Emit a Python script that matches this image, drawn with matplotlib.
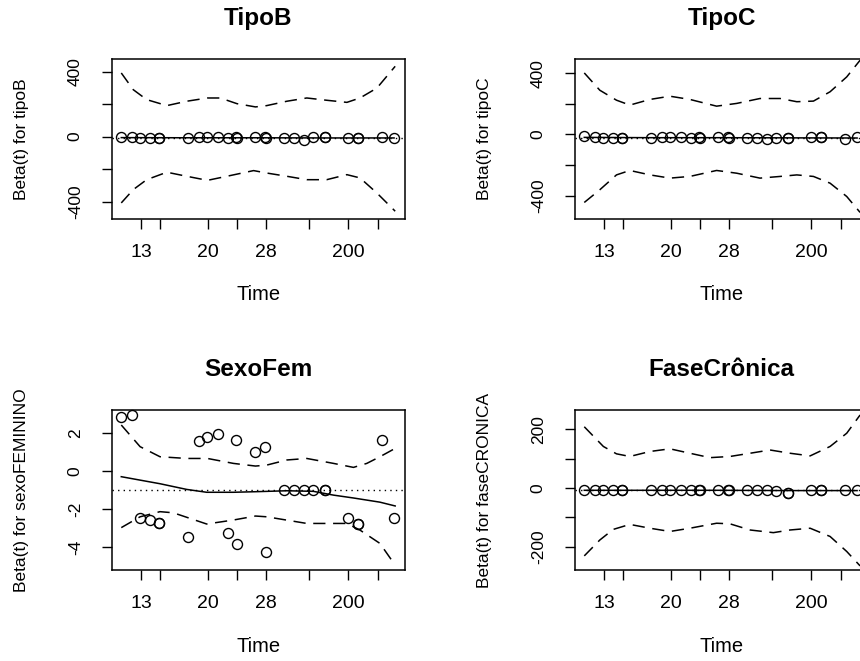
import matplotlib
matplotlib.use("Agg")
import matplotlib.pyplot as plt

plt.rcParams['font.family'] = ['Liberation Sans', 'DejaVu Sans']

# ---- data (x on the transformed time scale used by cox.zph, 0..1) ----
event_t = [0.000, 0.038, 0.069, 0.105, 0.139, 0.139, 0.246, 0.284, 0.315, 0.354,
           0.390, 0.422, 0.424, 0.491, 0.527, 0.531, 0.598, 0.634, 0.669, 0.704,
           0.747, 0.747, 0.830, 0.867, 0.867, 0.955, 1.000]

tick_t = [0.072, 0.142, 0.318, 0.424, 0.531, 0.688, 0.831, 0.941]
tick_labels = ["13", "", "20", "", "28", "", "200", ""]

titles = ["TipoB", "TipoC", "SexoFem", "FaseCr\u00f4nica"]
ylabels = ["Beta(t) for tipoB", "Beta(t) for tipoC",
           "Beta(t) for sexoFEMININO", "Beta(t) for faseCRONICA"]

# residual points
res_tipoB = [-2, -3, -8, -8, -10, -10, -10, -3, -3, -3, -8, -5, -10, -3, -3, -10,
             -10, -10, -18, -3, -3, -3, -10, -10, -10, -3, -8]
res_tipoC = [-11, -15, -24, -24, -24, -24, -24, -15, -15, -15, -24, -20, -24, -15,
             -20, -24, -24, -24, -33, -24, -24, -24, -20, -20, -20, -28, -20]
res_sexo = [2.88, 2.95, -2.44, -2.56, -2.72, -2.72, -3.46, 1.61, 1.82, 1.98, -3.26,
            1.63, -3.82, 1.02, 1.28, -4.23, -0.98, -0.98, -0.98, -0.98, -0.98,
            -0.98, -2.44, -2.77, -2.77, 1.63, -2.44]
res_fase = [-8, -8, -8, -8, -8, -8, -8, -8, -8, -8, -8, -8, -8, -8, -8, -8, -8,
            -8, -8, -12, -16, -16, -8, -8, -8, -8, -8]

# coefficient (dotted line)
coef = [-6, -22, -0.98, -8]

# smooth fit (solid)
fit_t_flat = [0.0, 0.25, 0.5, 0.75, 1.0]
fit_tipoB = [-6, -7, -7, -8, -8]
fit_tipoC = [-20, -22, -22, -23, -24]
fit_fase = [-8, -8, -8, -9, -9]
fit_t_sexo = [0.0, 0.069, 0.142, 0.240, 0.313, 0.411, 0.492, 0.607, 0.704, 0.778,
              0.851, 0.948, 1.004]
fit_sexo = [-0.28, -0.46, -0.65, -0.95, -1.10, -1.10, -1.07, -1.02, -1.05, -1.25,
            -1.40, -1.62, -1.82]

# confidence bands (dashed)
bandB_t_up = [0, 0.044, 0.093, 0.167, 0.240, 0.316, 0.363, 0.424, 0.492, 0.533,
              0.607, 0.680, 0.753, 0.827, 0.875, 0.937, 1.004]
bandB_up = [392, 289, 228, 191, 218, 238, 238, 203, 183, 191, 218, 238, 224, 211,
            238, 299, 433]
bandB_t_lo = [0, 0.044, 0.093, 0.167, 0.240, 0.316, 0.387, 0.485, 0.533, 0.607,
              0.680, 0.753, 0.827, 0.875, 0.937, 1.004]
bandB_lo = [-408, -326, -265, -219, -244, -269, -244, -209, -224, -244, -265, -265,
            -234, -254, -347, -459]

bandC_t = [0.0, 0.057, 0.118, 0.167, 0.241, 0.314, 0.387, 0.485, 0.559, 0.644,
           0.718, 0.779, 0.840, 0.901, 0.962, 1.011]
bandC_up = [401, 288, 223, 191, 228, 249, 228, 184, 202, 234, 234, 213, 217, 278,
            375, 484]
bandC_lo = [-445, -362, -265, -236, -265, -286, -275, -236, -254, -286, -275, -265,
            -275, -319, -406, -510]

bandS_t_up = [0.000, 0.069, 0.142, 0.240, 0.316, 0.411, 0.492, 0.533, 0.607, 0.680,
              0.778, 0.851, 0.900, 0.948, 1.004]
bandS_up = [2.44, 1.30, 0.77, 0.68, 0.68, 0.42, 0.28, 0.33, 0.60, 0.68, 0.42, 0.21,
            0.42, 0.77, 1.21]
bandS_t_lo = [0.000, 0.069, 0.142, 0.191, 0.313, 0.411, 0.492, 0.533, 0.680, 0.827,
              0.875, 0.948, 0.991]
bandS_lo = [-2.96, -2.39, -2.12, -2.18, -2.77, -2.56, -2.35, -2.39, -2.74, -2.74,
            -3.09, -3.79, -4.67]

bandF_t_up = [0.0, 0.070, 0.118, 0.167, 0.241, 0.314, 0.387, 0.461, 0.534, 0.608,
              0.681, 0.754, 0.828, 0.901, 0.962, 1.011]
bandF_up = [208, 141, 116, 107, 124, 133, 118, 103, 107, 118, 129, 118, 109, 141,
            186, 248]
bandF_t_lo = [0, 0.057, 0.106, 0.167, 0.241, 0.314, 0.387, 0.485, 0.534, 0.608,
              0.693, 0.754, 0.828, 0.901, 0.962, 1.011]
bandF_lo = [-231, -177, -141, -124, -137, -148, -137, -120, -122, -143, -152, -143,
            -137, -165, -216, -265]

yticks = [[-400, -200, 0, 200, 400], [-400, -200, 0, 200, 400],
          [-4, -2, 0, 2], [-200, -100, 0, 100, 200]]
ytick_labels = [["-400", "", "0", "", "400"], ["-400", "", "0", "", "400"],
                ["-4", "-2", "0", "2"], ["-200", "", "0", "", "200"]]
ylims = [(-507, 478), (-553, 492), (-5.19, 3.23), (-279, 265)]

panels = [
    dict(res=res_tipoB, fit_t=fit_t_flat, fit=fit_tipoB,
         up_t=bandB_t_up, up=bandB_up, lo_t=bandB_t_lo, lo=bandB_lo),
    dict(res=res_tipoC, fit_t=fit_t_flat, fit=fit_tipoC,
         up_t=bandC_t, up=bandC_up, lo_t=bandC_t, lo=bandC_lo),
    dict(res=res_sexo, fit_t=fit_t_sexo, fit=fit_sexo,
         up_t=bandS_t_up, up=bandS_up, lo_t=bandS_t_lo, lo=bandS_lo),
    dict(res=res_fase, fit_t=fit_t_flat, fit=fit_fase,
         up_t=bandF_t_up, up=bandF_up, lo_t=bandF_t_lo, lo=bandF_lo),
]

# ---- layout ----
W, H = 860, 661
fig = plt.figure(figsize=(W / 100, H / 100), dpi=100)
box_w, box_h = 293, 160
lefts = [112, 575]
tops = [59, 410]

tick_fs = 14
lab_fs = 14.5
ylab_fs = 12.5
title_fs = 17.5

for i, p in enumerate(panels):
    r, c = divmod(i, 2)
    x0 = lefts[c]
    y0 = tops[r]
    ax = fig.add_axes([x0 / W, (H - y0 - box_h) / H, box_w / W, box_h / H])
    ax.set_xlim(-0.034, 1.040)
    ax.set_ylim(*ylims[i])

    ax.plot(event_t, p['res'], linestyle='none', marker='o', markersize=7.2,
            markerfacecolor='none', markeredgecolor='black', markeredgewidth=1.0,
            clip_on=False, zorder=3)
    ax.plot(p['fit_t'], p['fit'], color='black', lw=1.1, zorder=2)
    ax.plot(p['up_t'], p['up'], color='black', lw=1.1, dashes=(8, 5), zorder=2)
    ax.plot(p['lo_t'], p['lo'], color='black', lw=1.1, dashes=(8, 5), zorder=2)
    ax.axhline(coef[i], color='black', lw=1.0, linestyle=(0, (1, 3)), zorder=1)

    for s in ax.spines.values():
        s.set_linewidth(1.1)
        s.set_color('black')

    ax.set_xticks(tick_t)
    ax.set_xticklabels(tick_labels)
    ax.set_yticks(yticks[i])
    ax.set_yticklabels(ytick_labels[i])
    ax.tick_params(axis='both', direction='out', length=7.5, width=1.0,
                   colors='black')
    ax.tick_params(axis='x', labelsize=tick_fs, pad=10.5)
    ax.tick_params(axis='y', labelsize=ylab_fs, pad=13.5, labelrotation=90)
    for lbl in ax.get_yticklabels():
        lbl.set_va('center')

    ax.set_xlabel("Time", fontsize=lab_fs)
    ax.xaxis.set_label_coords(0.5, -(75 if r == 0 else 77) / box_h)
    ax.xaxis.label.set_va('center')
    ax.set_ylabel(ylabels[i], fontsize=ylab_fs)
    ax.yaxis.set_label_coords(-90 / box_w, 0.5)
    ax.yaxis.label.set_va('center')

    ax.text(0.5, 1 + 41 / box_h, titles[i], transform=ax.transAxes,
            ha='center', va='center', fontsize=title_fs, fontweight='bold')

fig.savefig("out.png", dpi=100)
